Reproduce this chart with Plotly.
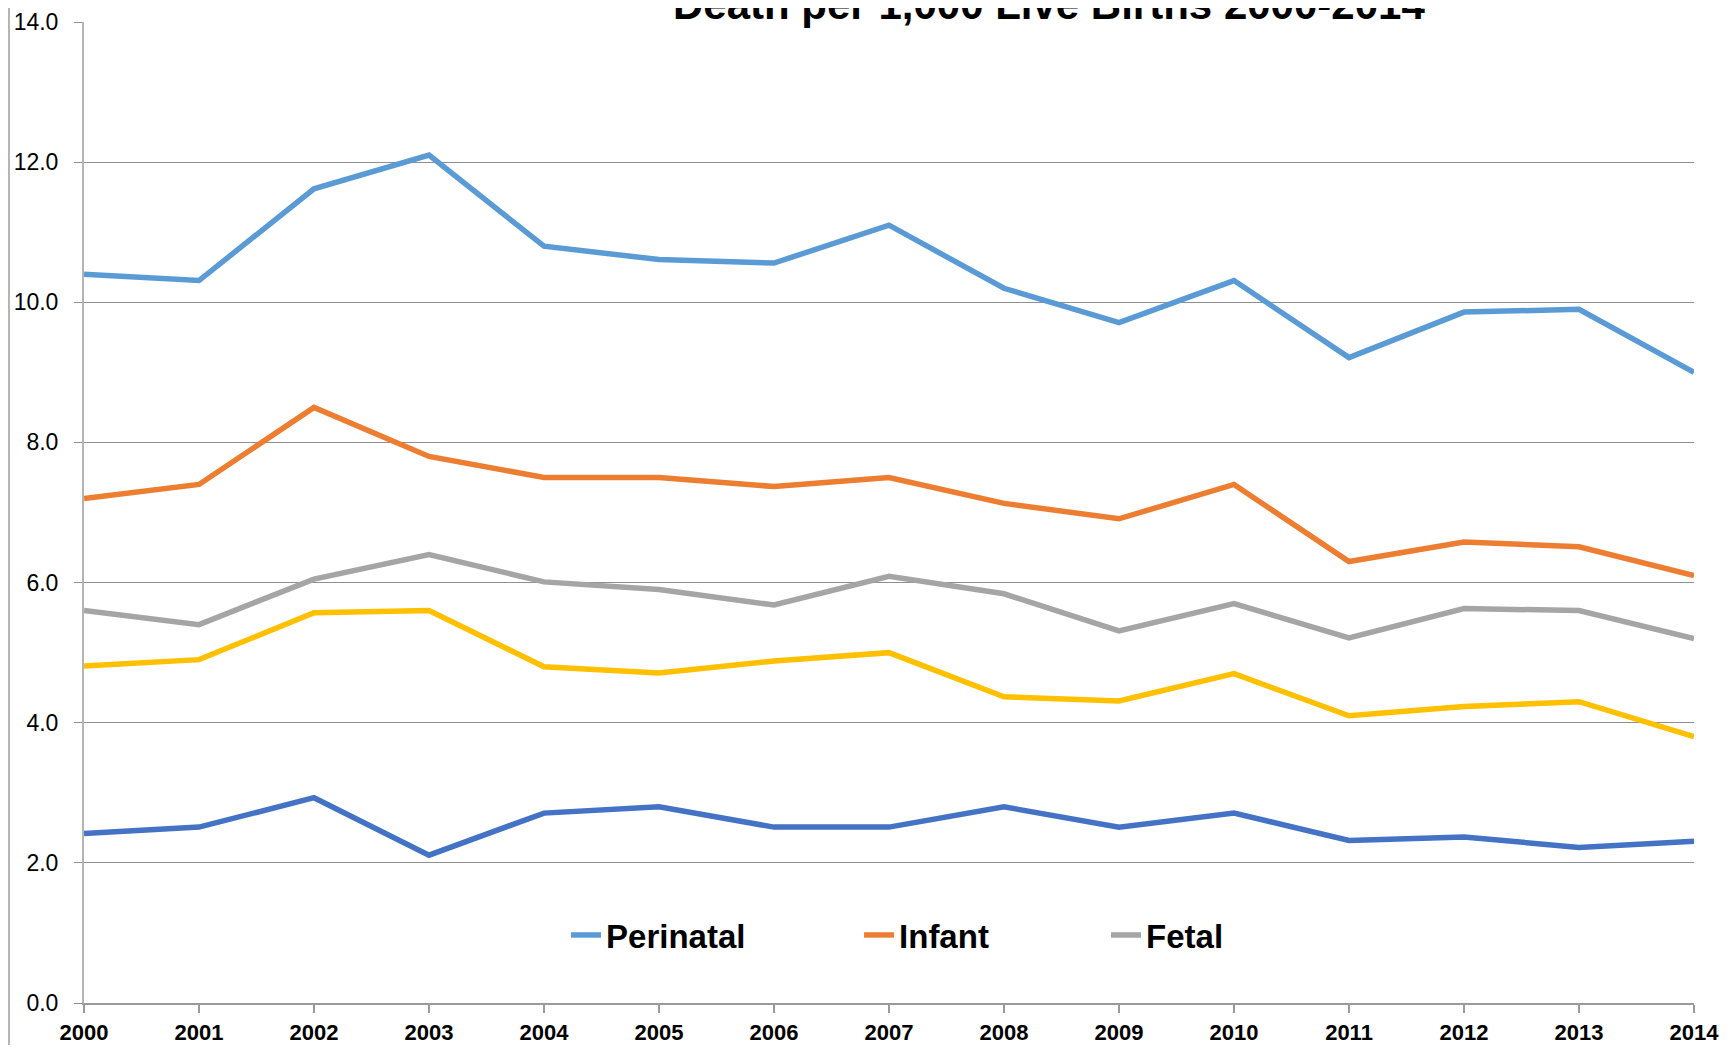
import plotly.graph_objects as go

years = list(range(2000, 2015))
year_labels = [str(y) for y in years]

perinatal = [10.40, 10.31, 11.62, 12.10, 10.80, 10.61, 10.56, 11.10, 10.20, 9.71, 10.31, 9.21, 9.86, 9.90, 9.00]
infant = [7.20, 7.40, 8.50, 7.80, 7.50, 7.50, 7.37, 7.50, 7.13, 6.91, 7.40, 6.30, 6.58, 6.51, 6.10]
fetal = [5.60, 5.40, 6.05, 6.40, 6.01, 5.90, 5.68, 6.09, 5.84, 5.31, 5.70, 5.21, 5.63, 5.60, 5.20]
neonatal = [4.81, 4.90, 5.57, 5.60, 4.80, 4.71, 4.88, 5.00, 4.37, 4.31, 4.70, 4.10, 4.23, 4.30, 3.80]
postneonatal = [2.42, 2.51, 2.93, 2.11, 2.71, 2.80, 2.51, 2.51, 2.80, 2.51, 2.71, 2.32, 2.37, 2.22, 2.31]

title_text = "Death per 1,000 Live Births 2000-2014"
FONT = "Liberation Sans"

fig = go.Figure()
series = [
    ("Perinatal", perinatal, "#5B9BD5", True, "legend"),
    ("Infant", infant, "#ED7D31", True, "legend2"),
    ("Fetal", fetal, "#A5A5A5", True, "legend3"),
    ("Neonatal", neonatal, "#FFC000", False, "legend"),
    ("Post-neonatal", postneonatal, "#4472C4", False, "legend"),
]
for name, vals, color, show, lg in series:
    fig.add_trace(go.Scatter(
        x=years, y=vals, name=name, mode="lines",
        line=dict(color=color, width=5.5),
        showlegend=show, legend=lg,
    ))

leg_common = dict(orientation="h", yanchor="middle", y=0.0693, xanchor="left",
                  bgcolor="rgba(0,0,0,0)",
                  font=dict(family=FONT, size=33, color="black", weight="bold"))

fig.update_layout(
    template="none",
    width=1718, height=1037,
    margin=dict(l=76, r=32, t=14, b=42, autoexpand=False),
    paper_bgcolor="white", plot_bgcolor="white",
    font=dict(family=FONT, color="black"),
    legend=dict(x=0.2994, **leg_common),
    legend2=dict(x=0.4814, **leg_common),
    legend3=dict(x=0.6348, **leg_common),
    xaxis=dict(
        range=[2000, 2014], tickvals=years, ticktext=year_labels,
        showgrid=False, zeroline=False, automargin=False,
        showline=True, linecolor="#9a9a9a", linewidth=1.5,
        ticks="outside", ticklen=8, tickcolor="#9a9a9a", tickwidth=1.5,
        tickfont=dict(family=FONT, size=22, color="black", weight="bold"),
        ticklabelstandoff=1,
    ),
    yaxis=dict(
        range=[0, 14], dtick=2, tickformat=".1f",
        showgrid=True, gridcolor="#8f8f8f", gridwidth=1.3,
        zeroline=False, automargin=False,
        showline=True, linecolor="#b4b4b4", linewidth=2,
        ticks="outside", ticklen=8, tickcolor="#8f8f8f", tickwidth=1.3,
        tickfont=dict(family=FONT, size=23, color="black"),
        ticklabelstandoff=11,
    ),
    annotations=[dict(
        text="<b>" + title_text + "</b>", xref="paper", yref="paper",
        x=0.5994, y=0.992, xanchor="center", yanchor="bottom",
        showarrow=False, font=dict(family=FONT, size=42, color="black"),
    )],
    shapes=[dict(
        type="line", xref="paper", yref="paper",
        x0=-0.0466, x1=-0.0466, y0=-0.06, y1=1.03,
        line=dict(color="#b4b4b4", width=2),
    )],
)

fig.write_html("out.html")
